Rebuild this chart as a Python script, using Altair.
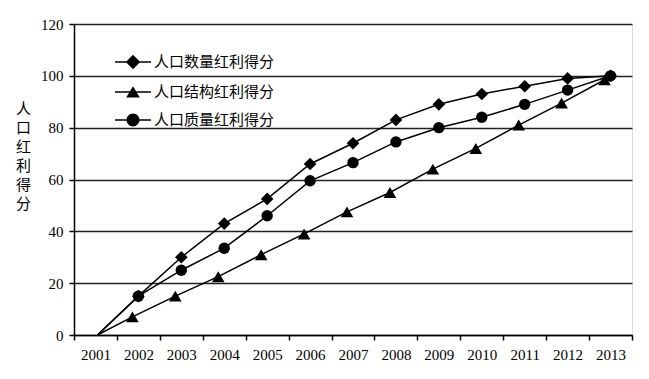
import altair as alt
import pandas as pd

years = ["2001", "2002", "2003", "2004", "2005", "2006", "2007",
         "2008", "2009", "2010", "2011", "2012", "2013"]
quantity = [0, 15, 30, 43, 52.5, 66, 74, 83, 89, 93, 96, 99, 100]
structure = [0, 7, 15, 22.5, 31, 39, 47.5, 55, 64, 72, 81, 89.5, 98.5]
quality = [0, 15, 25, 33.5, 46, 59.5, 66.5, 74.5, 80, 84, 89, 94.5, 100]
series_names = ["人口数量红利得分", "人口结构红利得分", "人口质量红利得分"]
y_ticks = [0, 20, 40, 60, 80, 100, 120]

rows = []
for name, vals in zip(series_names, [quantity, structure, quality]):
    for i, (yr, v) in enumerate(zip(years, vals)):
        rows.append({"year": yr, "value": v, "series": name, "idx": i})
df = pd.DataFrame(rows)

LABEL_FONT = "Liberation Serif"
CJK_FONT = "Noto Sans CJK SC"

x_enc = alt.X(
    "year:N",
    sort=years,
    scale=alt.Scale(type="band", paddingInner=0, paddingOuter=0),
    axis=alt.Axis(
        title=None, labelAngle=0, tickBand="extent", tickSize=5,
        tickColor="black", domainColor="black", domainWidth=1.5, tickWidth=1.5,
        labelFont=LABEL_FONT, labelFontSize=15, labelColor="black", labelPadding=7,
        grid=False,
    ),
)
y_enc = alt.Y(
    "value:Q",
    scale=alt.Scale(domain=[0, 120], nice=False),
    axis=alt.Axis(
        values=y_ticks, title=list("人口红利得分"), titleAngle=0,
        titleFont=CJK_FONT, titleFontSize=15, titleFontWeight="normal",
        titleColor="black", titleAlign="center", titleBaseline="top",
        titleX=-51, titleY=77, titleLineHeight=19,
        labelFont=LABEL_FONT, labelFontSize=15, labelColor="black", labelPadding=6,
        tickSize=5, tickColor="black", tickWidth=1.5,
        domainColor="black", domainWidth=1.5,
        grid=True, gridColor="#222222", gridWidth=1.5,
    ),
)

base = alt.Chart(df)
shapes = {"人口数量红利得分": ("diamond", 160, 0),
          "人口结构红利得分": ("triangle-up", 160, -6),
          "人口质量红利得分": ("circle", 130, 0)}

layers = []
for name in series_names:
    shp, sz, off = shapes[name]
    sub = base.transform_filter(alt.datum.series == name)
    layers.append(
        sub.mark_line(
            color="black", strokeWidth=1.5,
            xOffset={"expr": f"datum.idx > 0 ? {off} : 2"},
        ).encode(x=x_enc, y=y_enc, order="idx:Q")
    )
    layers.append(
        sub.transform_filter(alt.datum.idx > 0)
        .mark_point(shape=shp, size=sz, filled=True, color="black", opacity=1, xOffset=off)
        .encode(x=x_enc, y=y_enc)
    )

bar = "M-1,-0.045L1,-0.045L1,0.045L-1,0.045Z"
legend_paths = [
    bar + "M0,-0.4L0.4,0L0,0.4L-0.4,0Z",
    bar + "M0,-0.32L0.38,0.3L-0.38,0.3Z",
    bar + "M-0.36,0A0.36,0.36 0 1,1 0.36,0A0.36,0.36 0 1,1 -0.36,0Z",
]

legend_layer = base.mark_point(
    opacity=0, filled=True, size=1296, color="black",
).encode(
    x=x_enc, y=y_enc,
    shape=alt.Shape(
        "series:N",
        scale=alt.Scale(domain=series_names, range=legend_paths),
        legend=alt.Legend(
            title=None, orient="none", legendX=40, legendY=19,
            symbolSize=1296, symbolFillColor="black",
            symbolOpacity=1, rowPadding=-9,
            labelFont=CJK_FONT, labelFontSize=15, labelColor="black",
            labelOffset=2, symbolOffset=0,
        ),
    ),
)

chart = alt.layer(*layers, legend_layer).properties(
    width=558, height=311,
    padding={"left": 66, "top": 16, "right": 8, "bottom": 30},
    autosize=alt.AutoSizeParams(type="none"),
).configure_view(stroke=None).configure(background="white")

chart.save("out.html", embed_options={"renderer": "svg", "actions": False})
